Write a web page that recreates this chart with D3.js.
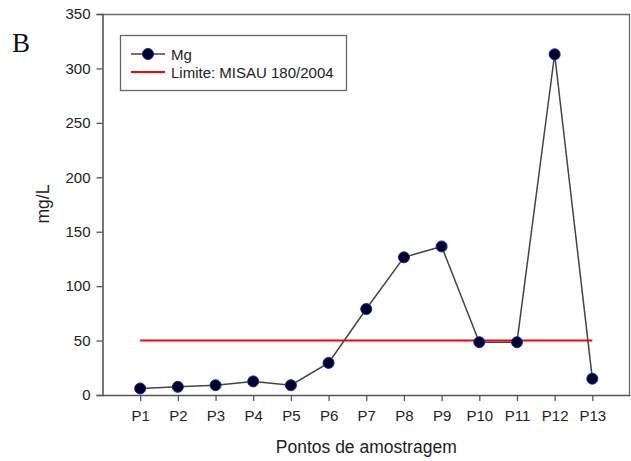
<!DOCTYPE html>
<html><head><meta charset="utf-8">
<script src="https://cdn.jsdelivr.net/npm/d3@7"></script>
<style>body{margin:0;background:#fff}svg{display:block}</style>
</head><body>
<svg id="c" width="631" height="461"></svg>
<script>
const categories = ["P1","P2","P3","P4","P5","P6","P7","P8","P9","P10","P11","P12","P13"];
const mgValues = [6, 7.5, 9, 12.5, 9, 29.5, 79, 126.5, 136.5, 48.5, 48.5, 313, 15];
const limitValue = 50;
const yTicks = [0, 50, 100, 150, 200, 250, 300, 350];
const seriesName = "Mg";
const limitName = "Limite: MISAU 180/2004";

const svg = d3.select("#c");
const L = 102.5, R = 630, T = 14, B = 395;
const x = d3.scaleLinear().domain([0, categories.length + 1]).range([L, R]);
const y = d3.scaleLinear().domain([0, 350]).range([B, T]);
const font = "'Liberation Sans', Arial, sans-serif";

// frame top/right
svg.append("line").attr("x1", L).attr("x2", R).attr("y1", T + 0.5).attr("y2", T + 0.5).attr("stroke", "#6a6a6a").attr("stroke-width", 1.3);
svg.append("line").attr("x1", R - 0.5).attr("x2", R - 0.5).attr("y1", T).attr("y2", B).attr("stroke", "#6a6a6a").attr("stroke-width", 1.3);

// y axis
const ya = svg.append("g").attr("transform", `translate(${L},0)`)
  .call(d3.axisLeft(y).tickValues(yTicks).tickSize(6).tickPadding(6));
ya.select(".domain").attr("stroke", "#555").attr("stroke-width", 1.6);
ya.selectAll(".tick line").attr("stroke", "#555").attr("stroke-width", 1.3);
ya.selectAll("text").attr("font-family", font).attr("font-size", 15).attr("fill", "#222");

// x axis
const xa = svg.append("g").attr("transform", `translate(0,${B})`)
  .call(d3.axisBottom(x).tickValues(categories.map((c, i) => i + 1))
    .tickFormat(d => categories[d - 1]).tickSize(6).tickPadding(9).tickSizeOuter(0));
xa.select(".domain").attr("stroke", "#555").attr("stroke-width", 1.6);
xa.selectAll(".tick line").attr("stroke", "#555").attr("stroke-width", 1.3);
xa.selectAll("text").attr("font-family", font).attr("font-size", 15).attr("fill", "#222");

// limit line
svg.append("line")
  .attr("x1", x(1)).attr("x2", x(categories.length))
  .attr("y1", y(limitValue)).attr("y2", y(limitValue))
  .attr("stroke", "#ff0000").attr("stroke-width", 2);

// data line
const pts = mgValues.map((v, i) => [x(i + 1), y(v)]);
svg.append("path").attr("d", d3.line()(pts)).attr("fill", "none")
  .attr("stroke", "#444").attr("stroke-width", 1.5);
svg.selectAll("circle.pt").data(mgValues).join("circle").attr("class", "pt")
  .attr("cx", (d, i) => x(i + 1)).attr("cy", d => y(d)).attr("r", 5.5)
  .attr("fill", "#000022").attr("stroke", "#1a1acc").attr("stroke-width", 1);

// legend
svg.append("rect").attr("x", 120.5).attr("y", 35.5).attr("width", 226).attr("height", 55)
  .attr("fill", "#fff").attr("stroke", "#666").attr("stroke-width", 1.3);
svg.append("line").attr("x1", 131).attr("x2", 165).attr("y1", 54).attr("y2", 54).attr("stroke", "#444").attr("stroke-width", 1.5);
svg.append("circle").attr("cx", 148).attr("cy", 54).attr("r", 5.5).attr("fill", "#000022").attr("stroke", "#1a1acc");
svg.append("line").attr("x1", 131).attr("x2", 165).attr("y1", 72).attr("y2", 72).attr("stroke", "#ff0000").attr("stroke-width", 2);
svg.append("text").attr("x", 171).attr("y", 59.5).text(seriesName).attr("font-family", font).attr("font-size", 15).attr("fill", "#222");
svg.append("text").attr("x", 171).attr("y", 77.5).text(limitName).attr("font-family", font).attr("font-size", 15).attr("fill", "#222");

// axis titles
svg.append("text").attr("x", (L + R) / 2).attr("y", 453).attr("text-anchor", "middle")
  .text("Pontos de amostragem").attr("font-family", font).attr("font-size", 17.5).attr("fill", "#222");
svg.append("text").attr("transform", "translate(49,204) rotate(-90)").attr("text-anchor", "middle")
  .text("mg/L").attr("font-family", font).attr("font-size", 17.5).attr("fill", "#222");

// panel letter
svg.append("text").attr("x", 12).attr("y", 52).text("B")
  .attr("font-family", "'Liberation Serif', 'Times New Roman', serif").attr("font-size", 27).attr("fill", "#111");
</script>
</body></html>
